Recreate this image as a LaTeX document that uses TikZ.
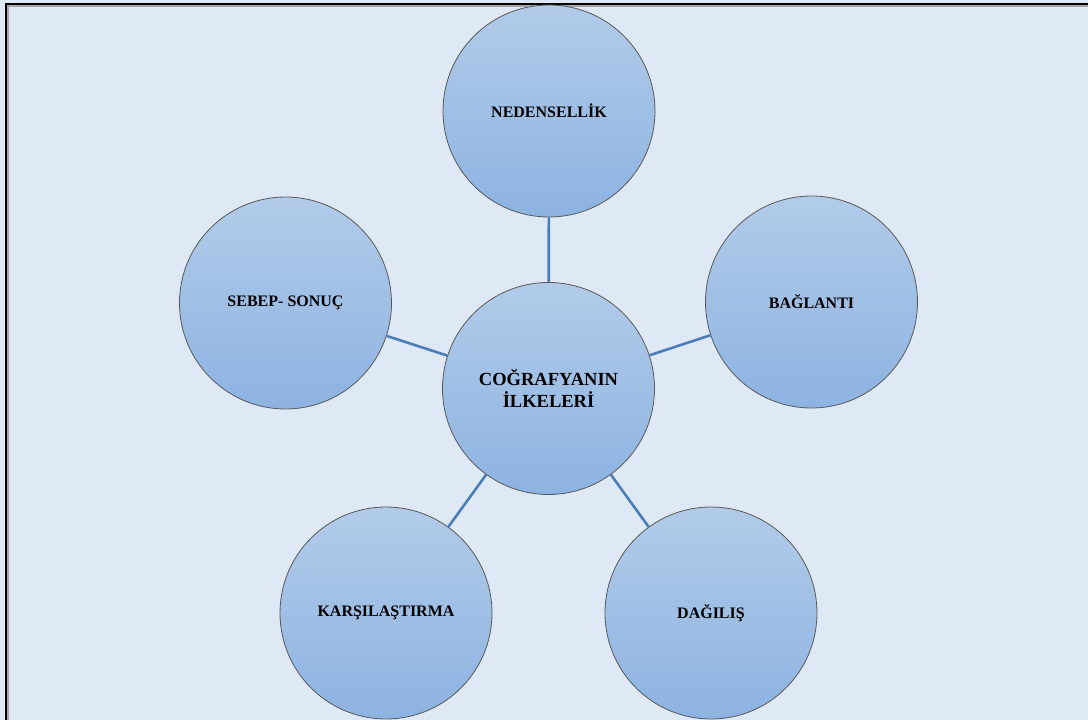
\documentclass[tikz,border=0pt]{standalone}
\usepackage{fontspec}
\setmainfont{Liberation Serif}
\begin{document}
\begin{tikzpicture}[x=1pt,y=-1pt,
  bub/.style={circle,draw=black!65,line width=0.8pt,minimum size=212pt,inner sep=0pt,
    top color=bubtop,bottom color=bubbot,align=center,font=\bfseries\fontsize{16}{19}\selectfont},
  link/.style={draw=linkc,line width=2.6pt}]
\definecolor{bgc}{HTML}{DEE9F5}
\definecolor{bubtop}{HTML}{B2CBE9}
\definecolor{bubbot}{HTML}{8DB3E2}
\definecolor{linkc}{HTML}{4A7EBB}
\useasboundingbox (0,0) rectangle (1088,720);
\begin{scope}
\clip (0,0) rectangle (1088,720);
\fill[bgc] (0,0) rectangle (1088,720);
\draw[black!35,line width=3pt] (7,5) rectangle (1102,734);
\draw[black,line width=2pt] (6,4) rectangle (1100,732);
\end{scope}
\node[bub,font=\bfseries\fontsize{18.5}{22}\selectfont] (c) at (548.5,388.5) {COĞRAFYANIN\\İLKELERİ};
\node[bub] (n) at (549,111) {NEDENSELLİK};
\node[bub] (s) at (285.5,303) {SEBEP- SONUÇ};
\node[bub] (b) at (811.5,302) {BAĞLANTI};
\node[bub] (k) at (386,613) {KARŞILAŞTIRMA};
\node[bub] (d) at (711,613) {DAĞILIŞ};
\draw[link] (c) -- (n);
\draw[link] (c) -- (s);
\draw[link] (c) -- (b);
\draw[link] (c) -- (k);
\draw[link] (c) -- (d);
\end{tikzpicture}
\end{document}
